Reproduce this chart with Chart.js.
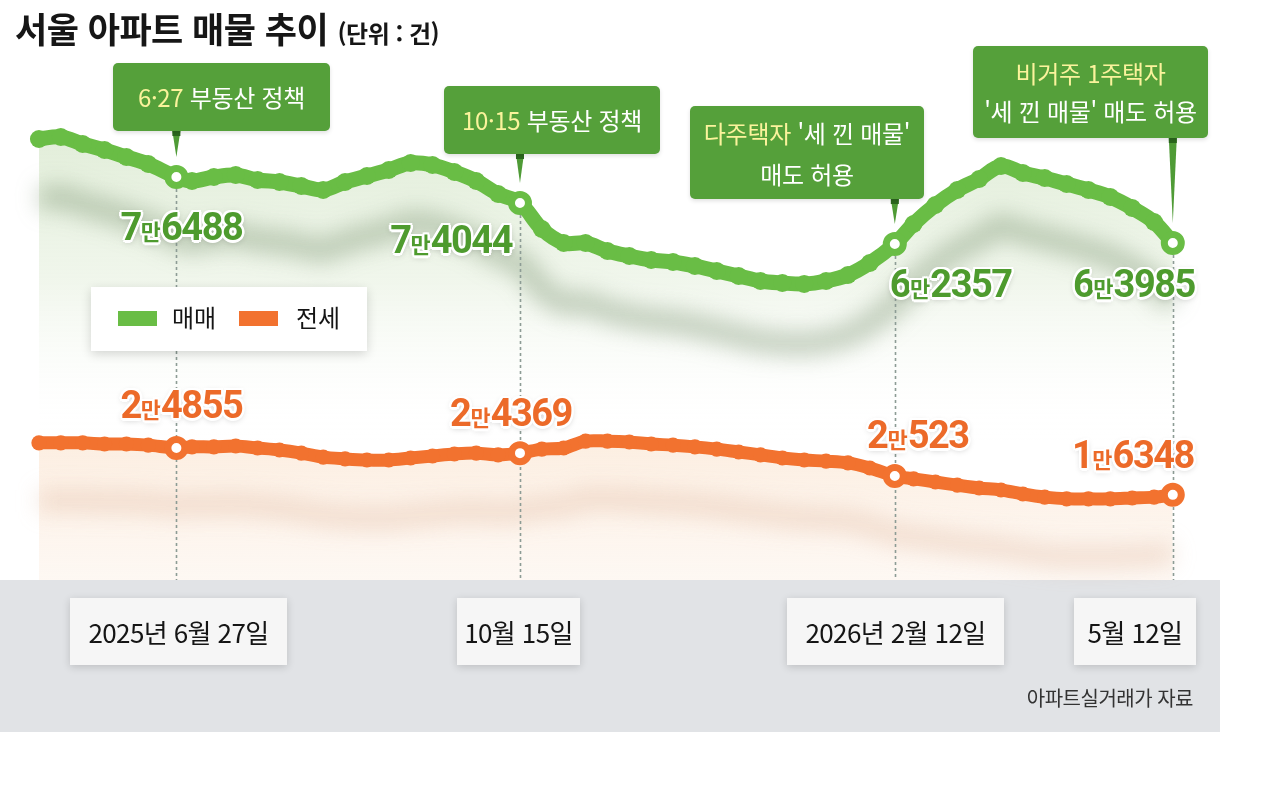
<!DOCTYPE html>
<html lang="ko">
<head>
<meta charset="utf-8">
<script src="https://cdn.jsdelivr.net/npm/chart.js@4.4.1/dist/chart.umd.min.js"></script>
<style>
html,body{margin:0;padding:0;background:#fff;}
#wrap{position:relative;width:1280px;height:785px;overflow:hidden;font-family:"Noto Sans CJK KR","Noto Sans",sans-serif;}
#band{position:absolute;left:0;top:580px;width:1220px;height:152px;background:#e1e3e6;}
#c{position:absolute;left:0;top:0;width:1280px;height:785px;}
.title{position:absolute;left:15px;top:2px;font-size:35px;font-weight:700;color:#161616;letter-spacing:-0.5px;white-space:nowrap;}
.title small{font-size:24px;font-weight:700;letter-spacing:-0.5px;}
.callout{position:absolute;background:#55a03a;border-radius:5px;color:#fff;font-size:24px;font-weight:400;display:flex;align-items:center;justify-content:center;text-align:center;letter-spacing:-0.3px;box-shadow:0 2px 4px rgba(0,0,0,0.12);}
.callout div{white-space:pre;}
.callout .hl{color:#fbf39c;}
.vlabel{position:absolute;font-family:Roboto,"Noto Sans",sans-serif;font-weight:700;font-size:38px;line-height:38px;letter-spacing:-1.5px;white-space:nowrap;
 text-shadow:-2.5px 0 0 #fff,2.5px 0 0 #fff,0 -2.5px 0 #fff,0 2.5px 0 #fff,-1.8px -1.8px 0 #fff,1.8px -1.8px 0 #fff,-1.8px 1.8px 0 #fff,1.8px 1.8px 0 #fff,0 2px 6px rgba(0,0,0,0.25);}
.vlabel span{font-family:"Noto Sans CJK KR",sans-serif;font-size:22px;line-height:1;letter-spacing:0;}
.legend{position:absolute;left:91px;top:287px;width:276px;height:64px;background:#fff;box-shadow:0 3px 10px rgba(0,0,0,0.16);}
.legend .sw{position:absolute;top:24px;width:39px;height:15px;}
.legend .lt{position:absolute;top:13px;font-size:24px;line-height:34px;color:#151515;}
.dbox{position:absolute;top:598px;height:67px;background:#f6f6f6;box-shadow:0 2px 8px rgba(0,0,0,0.16);display:flex;align-items:center;justify-content:center;font-size:26px;letter-spacing:-0.6px;color:#151515;white-space:nowrap;}
.source{position:absolute;right:87px;top:683px;font-size:20px;color:#333;letter-spacing:-0.5px;}
</style>
</head>
<body>
<div id="wrap">
  <div id="band"></div>
  <canvas id="c" width="1280" height="785"></canvas>
</div>
<script>
// ---------------- data ----------------
const dates = [
  '2025-05-14','2025-05-21','2025-05-28','2025-06-04','2025-06-11','2025-06-18','2025-06-27',
  '2025-07-02','2025-07-09','2025-07-16','2025-07-23','2025-07-30','2025-08-06','2025-08-13',
  '2025-08-20','2025-08-27','2025-09-03','2025-09-10','2025-09-17','2025-09-24','2025-10-01',
  '2025-10-08','2025-10-15','2025-10-22','2025-10-29','2025-11-05','2025-11-12','2025-11-19',
  '2025-11-26','2025-12-03','2025-12-10','2025-12-17','2025-12-24','2025-12-31','2026-01-07',
  '2026-01-14','2026-01-21','2026-01-28','2026-02-04','2026-02-12','2026-02-18','2026-02-25',
  '2026-03-04','2026-03-11','2026-03-18','2026-03-25','2026-04-01','2026-04-08','2026-04-15',
  '2026-04-22','2026-04-29','2026-05-06','2026-05-12'
];
// 매매 (sale listings) as drawn
const saleValues = [
  84200,84600,83200,82000,80600,79200,76600,
  75800,76600,77000,76000,75600,74800,74000,
  75600,76800,78000,79400,79000,77600,75800,
  73200,71400,66200,63400,63400,61800,60800,
  60000,59600,58800,57800,56800,55800,55400,
  55200,55800,57000,59400,63200,67200,71000,
  74000,76200,78800,77400,76400,75200,74000,
  72600,70400,67600,63400
];
// 전세 (jeonse listings) as drawn
const jeonseValues = [
  25400,25400,25400,25200,25200,25000,24500,
  24700,24700,24850,24500,24150,23600,22900,
  22600,22400,22400,22750,23100,23450,23600,
  23300,23600,24300,24500,25700,25700,25550,
  25200,25000,24700,24300,23800,23300,22750,
  22400,22200,21900,21000,19600,19100,18550,
  18000,17500,17150,16450,15900,15600,15600,
  15600,15750,15900,16300
];
const seriesNames = ['매매','전세'];
const eventDates = ['2025-06-27','2025-10-15','2026-02-12','2026-05-12'];
const saleLabels = [76488, 74044, 62357, 63985];
const jeonseLabels = [24855, 24369, 20523, 16348];
const eventTitles = ['6·27 부동산 정책','10·15 부동산 정책',"다주택자 '세 낀 매물'\n매도 허용","비거주 1주택자\n'세 낀 매물' 매도 허용"];
const eventHighlights = ['6·27','10·15','다주택자','비거주 1주택자'];
const dateTickLabels = ['2025년 6월 27일','10월 15일','2026년 2월 12일','5월 12일'];
const chartTitle = '서울 아파트 매물 추이';
const chartUnit = '(단위 : 건)';
const sourceText = '아파트실거래가 자료';

// ---------------- style / layout ----------------
const GREEN = '#69bd45', ORANGE = '#f2722f';
const GREEN_TXT = '#4e9b2e', ORANGE_TXT = '#ec6a29';
const START = '2025-05-12';
const calloutBoxes = [
  {left:113, top:63, width:217, height:68, lh:40},
  {left:444, top:86, width:216, height:68, lh:40},
  {left:690, top:106, width:234, height:93, lh:41},
  {left:973, top:46, width:235, height:92, lh:38}
];
const saleLabelPos = [
  {dx:5, base:240, align:'center'},
  {dx:-8, base:253, align:'right'},
  {dx:-5, base:297, align:'left'},
  {dx:22, base:297, align:'right'}
];
const jeonseLabelPos = [
  {dx:5, base:418, align:'center'},
  {dx:-9, base:426, align:'center'},
  {dx:23, base:448, align:'center'},
  {dx:21, base:468, align:'right'}
];
const dateBoxes = [
  {left:70, width:217},{left:457, width:123},{left:787, width:217},{left:1074, width:122}
];

function dayIndex(s){ return Math.round((Date.parse(s) - Date.parse(START)) / 86400000); }
const keyIdx = eventDates.map(d => dates.indexOf(d));
const isKey = i => keyIdx.includes(i);
const salePts = dates.map((d,i) => ({x: dayIndex(d), y: saleValues[i]}));
const jeonsePts = dates.map((d,i) => ({x: dayIndex(d), y: jeonseValues[i]}));
const fmtMan = v => Math.floor(v/10000) + '<span>만</span>' + (v % 10000);

function greenFill(ctx){
  const ch = ctx.chart; if (!ch.chartArea) return 'rgba(0,0,0,0)';
  const g = ch.ctx.createLinearGradient(0,120,0,440);
  g.addColorStop(0,'rgba(221,235,211,0.9)');
  g.addColorStop(0.5,'rgba(235,243,229,0.75)');
  g.addColorStop(1,'rgba(255,255,255,0)');
  return g;
}
function orangeFill(ctx){
  const ch = ctx.chart; if (!ch.chartArea) return 'rgba(0,0,0,0)';
  const g = ch.ctx.createLinearGradient(0,440,0,580);
  g.addColorStop(0,'rgba(252,237,223,0.95)');
  g.addColorStop(1,'rgba(253,245,238,0.7)');
  return g;
}

function drawGuides(chart){
  const ctx = chart.ctx, xs = chart.scales.x, ys = chart.scales.ySale, bottom = chart.chartArea.bottom;
  ctx.save();
  ctx.strokeStyle = '#8d9c95'; ctx.lineWidth = 1.6; ctx.setLineDash([3,3]);
  keyIdx.forEach(i => {
    const px = Math.round(xs.getPixelForValue(salePts[i].x)) + 0.5;
    const py = ys.getPixelForValue(salePts[i].y) + 12;
    ctx.beginPath(); ctx.moveTo(px, py); ctx.lineTo(px, bottom); ctx.stroke();
  });
  ctx.restore();
}
function drawSpikes(chart){
  const ctx = chart.ctx, xs = chart.scales.x, ys = chart.scales.ySale;
  keyIdx.forEach((i,k) => {
    const px = xs.getPixelForValue(salePts[i].x);
    const tip = ys.getPixelForValue(salePts[i].y) - 20;
    const top = calloutBoxes[k].top + calloutBoxes[k].height;
    ctx.save();
    ctx.fillStyle = '#4f9b36';
    ctx.beginPath(); ctx.moveTo(px-4, top); ctx.lineTo(px+4, top); ctx.lineTo(px, tip); ctx.closePath(); ctx.fill();
    ctx.fillStyle = '#2c681e';
    ctx.fillRect(px-4, top, 8, 5);
    ctx.restore();
  });
}

const fxPlugin = {
  id: 'fx',
  beforeDatasetDraw(chart, args){
    const ds = chart.data.datasets[args.index];
    if (ds.shadowOffset){
      const ctx = chart.ctx; ctx.save();
      ctx.translate(0, ds.shadowOffset);
      ctx.filter = 'blur(' + ds.shadowBlur + 'px)';
    }
  },
  afterDatasetDraw(chart, args){
    const ds = chart.data.datasets[args.index];
    if (ds.shadowOffset) chart.ctx.restore();
    if (ds.guides) drawGuides(chart);
  },
  afterDatasetsDraw(chart){ drawSpikes(chart); }
};

const keyStyle = (color, r) => ({
  pointRadius: c => isKey(c.dataIndex) ? 8.5 : r,
  pointHoverRadius: c => isKey(c.dataIndex) ? 8.5 : r,
  pointBackgroundColor: c => isKey(c.dataIndex) ? '#ffffff' : color,
  pointBorderColor: color,
  pointBorderWidth: c => isKey(c.dataIndex) ? 7 : 0
});

const chart = new Chart(document.getElementById('c'), {
  type: 'line',
  data: {
    datasets: [
      Object.assign({label: seriesNames[0], data: salePts, yAxisID:'ySale', borderColor: GREEN, borderWidth: 15,
        tension: 0.35, fill: false, order: 0, clip: false, borderCapStyle:'round', borderJoinStyle:'round'}, keyStyle(GREEN, 9)),
      Object.assign({label: seriesNames[1], data: jeonsePts, yAxisID:'yJeonse', borderColor: ORANGE, borderWidth: 13,
        tension: 0.35, fill: false, order: 1, clip: false, borderCapStyle:'round', borderJoinStyle:'round'}, keyStyle(ORANGE, 7.6)),
      {label:'s1', data: salePts, yAxisID:'ySale', borderColor:'rgba(100,128,90,0.36)', borderWidth: 24, tension:0.35,
        pointRadius:0, fill:false, order:5, clip:false, shadowOffset:60, shadowBlur:11, guides:true},
      {label:'s2', data: jeonsePts, yAxisID:'yJeonse', borderColor:'rgba(214,165,135,0.3)', borderWidth: 22, tension:0.35,
        pointRadius:0, fill:false, order:6, clip:false, shadowOffset:58, shadowBlur:11},
      {label:'f1', data: salePts, yAxisID:'ySale', borderWidth:0, borderColor:'rgba(0,0,0,0)', backgroundColor: greenFill,
        tension:0.35, pointRadius:0, fill:'start', order:10},
      {label:'f2', data: jeonsePts, yAxisID:'yJeonse', borderWidth:0, borderColor:'rgba(0,0,0,0)', backgroundColor: orangeFill,
        tension:0.35, pointRadius:0, fill:'start', order:11}
    ]
  },
  options: {
    responsive: false,
    animation: false,
    events: [],
    layout: {padding: {left: 32.7, right: 107.2, top: 100, bottom: 205}},
    scales: {
      x: {type:'linear', min:0, max:365, display:false},
      ySale: {type:'linear', min:-4000, max:92000, display:false},
      yJeonse: {type:'linear', min:1400, max:85400, display:false}
    },
    plugins: {legend:{display:false}, tooltip:{enabled:false}}
  },
  plugins: [fxPlugin]
});

// ---------------- overlays (real text) ----------------
const wrap = document.getElementById('wrap');
function el(cls, html, style){
  const d = document.createElement('div'); d.className = cls; d.innerHTML = html;
  Object.assign(d.style, style || {}); wrap.appendChild(d); return d;
}
el('title', chartTitle + ' <small>' + chartUnit + '</small>');

eventTitles.forEach((t,k) => {
  const b = calloutBoxes[k];
  const hl = eventHighlights[k];
  const html = '<div>' + t.replace(hl, '<span class="hl">' + hl + '</span>') + '</div>';
  el('callout', html, {left:b.left+'px', top:b.top+'px', width:b.width+'px', height:b.height+'px', lineHeight:b.lh+'px'});
});

const legend = el('legend', '');
[[GREEN, seriesNames[0], 27, 81],[ORANGE, seriesNames[1], 148, 205]].forEach(([c,n,sx,tx]) => {
  const s = document.createElement('div'); s.className='sw'; s.style.left=sx+'px'; s.style.background=c; legend.appendChild(s);
  const t = document.createElement('div'); t.className='lt'; t.style.left=tx+'px'; t.textContent=n; legend.appendChild(t);
});

function addValueLabels(metaIdx, labels, pos, color){
  const meta = chart.getDatasetMeta(metaIdx);
  keyIdx.forEach((i,k) => {
    const p = meta.data[i], lp = pos[k];
    const tx = lp.align === 'center' ? 'translateX(-50%)' : (lp.align === 'right' ? 'translateX(-100%)' : 'none');
    el('vlabel', fmtMan(labels[k]), {left:(p.x + lp.dx)+'px', top:(lp.base - 32)+'px', color:color, transform:tx});
  });
}
addValueLabels(0, saleLabels, saleLabelPos, GREEN_TXT);
addValueLabels(1, jeonseLabels, jeonseLabelPos, ORANGE_TXT);

dateTickLabels.forEach((t,k) => {
  el('dbox', t, {left:dateBoxes[k].left+'px', width:dateBoxes[k].width+'px'});
});
el('source', sourceText);
</script>
</body>
</html>
